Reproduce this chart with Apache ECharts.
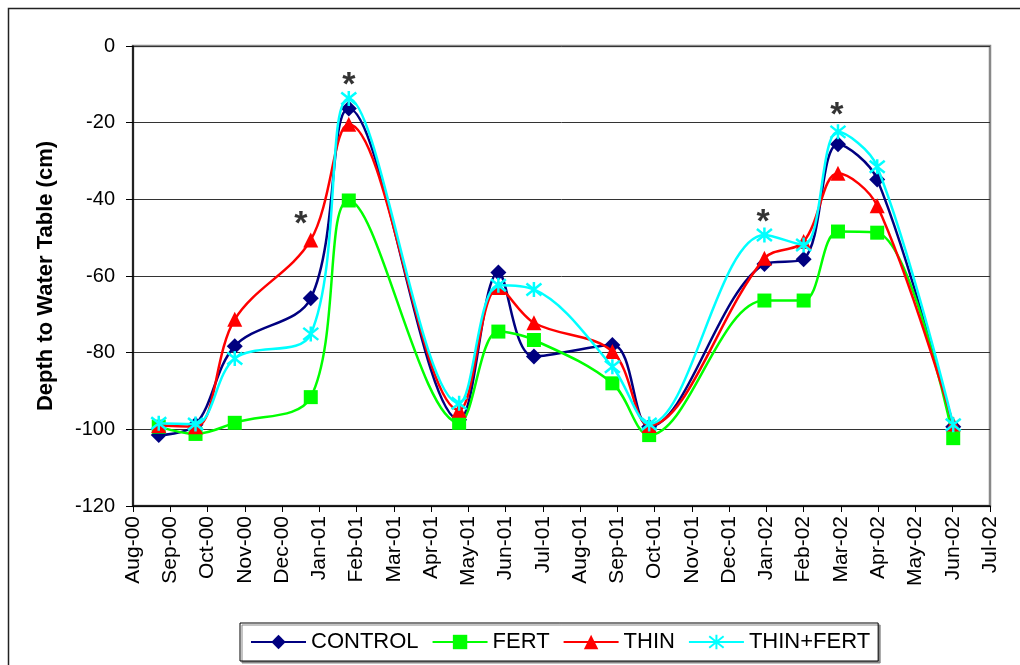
<!DOCTYPE html>
<html>
<head>
<meta charset="utf-8">
<script src="https://cdn.jsdelivr.net/npm/echarts@6/dist/echarts.min.js"></script>
<style>html,body{margin:0;padding:0;background:#fff;}#chart{width:1020px;height:665px;}</style>
</head>
<body>
<div id="chart"></div>
<script>
// ---- data ----
const sampleDates = ['2000-08-22','2000-09-21','2000-10-23','2000-12-24','2001-01-24','2001-04-24','2001-05-26','2001-06-24','2001-08-27','2001-09-26','2001-12-29','2002-01-30','2002-02-27','2002-03-31','2002-06-01'];
const control   = [-101.5, -98.8, -78.3, -65.8, -16.3, -97.5, -59.1, -81.0, -78.0, -99.3, -56.9, -55.6, -25.6, -34.8, -99.3];
const fert      = [-99.3, -101.2, -98.3, -91.6, -40.3, -98.3, -74.5, -76.7, -88.0, -101.5, -66.4, -66.4, -48.4, -48.7, -102.3];
const thin      = [-99.0, -99.3, -71.3, -50.6, -20.4, -95.0, -63.0, -72.2, -79.7, -99.0, -55.4, -51.0, -33.2, -41.7, -98.6];
const thinFert  = [-98.4, -98.6, -81.5, -75.1, -13.7, -93.2, -62.4, -63.5, -83.7, -98.6, -49.3, -51.9, -22.4, -31.5, -98.8];
const seriesNames = ['CONTROL', 'FERT', 'THIN', 'THIN+FERT'];
// significant differences (asterisk marks): [date, depth]
const asteriskDates  = ['2000-12-16', '2001-01-24', '2001-12-28', '2002-02-26'];
const asteriskDepths = [-44.3, -8.1, -43.6, -15.7];
// x-axis tick labels (one per axis division)
const monthLabels = ['Aug-00','Sep-00','Oct-00','Nov-00','Dec-00','Jan-01','Feb-01','Mar-01','Apr-01','May-01','Jun-01','Jul-01',
                     'Aug-01','Sep-01','Oct-01','Nov-01','Dec-01','Jan-02','Feb-02','Mar-02','Apr-02','May-02','Jun-02','Jul-02'];
const yTicks = [-120, -100, -80, -60, -40, -20, 0];

// ---- axis scale: x expressed in axis divisions (Aug-00 = 0 ... Jul-02 = 23) ----
const axisStart = Date.UTC(2000, 7, 1);
const axisEnd = Date.UTC(2002, 6, 1);
const nDiv = monthLabels.length - 1;
const divMs = (axisEnd - axisStart) / nDiv;
function toX(d) { return (Date.parse(d + 'T00:00:00Z') - axisStart) / divMs; }
function pairs(vals) { return sampleDates.map((d, i) => [toX(d), vals[i]]); }

const asteriskPath = 'path://M0,-10L0,10M-8,-8L8,8M-8,8L8,-8';
const styles = [
  { color: '#000080', symbol: 'diamond', size: 16 },
  { color: '#00FF00', symbol: 'rect', size: 14 },
  { color: '#FF0000', symbol: 'triangle', size: 15 },
  { color: '#00FFFF', symbol: asteriskPath, size: 15 }
];
const valueSets = [control, fert, thin, thinFert];

const series = valueSets.map((vals, i) => {
  const st = styles[i];
  const isStar = i === 3;
  return {
    name: seriesNames[i],
    type: 'line',
    data: pairs(vals),
    smooth: 0.35,
    symbol: st.symbol,
    symbolSize: st.size,
    showAllSymbol: true,
    lineStyle: { color: st.color, width: 2.5 },
    itemStyle: isStar ? { color: st.color, borderColor: st.color, borderWidth: 2.5 } : { color: st.color, borderWidth: 0 },
    emphasis: { disabled: true },
    z: 2 + i
  };
});
series.push({
  name: 'sig',
  type: 'scatter',
  data: asteriskDates.map((d, i) => [toX(d), asteriskDepths[i]]),
  symbolSize: 1,
  itemStyle: { color: 'rgba(0,0,0,0)' },
  label: { show: true, position: 'inside', formatter: '*', fontSize: 34, fontWeight: 'bold', color: '#000', fontFamily: 'Liberation Sans, Arial', offset: [0, 9] },
  emphasis: { disabled: true },
  silent: true,
  z: 10
});

const chart = echarts.init(document.getElementById('chart'), null, { renderer: 'canvas' });
chart.setOption({
  animation: false,
  backgroundColor: '#fff',
  textStyle: { fontFamily: 'Liberation Sans, Arial, sans-serif' },
  graphic: [{
    type: 'rect', left: 6, top: 6, shape: { width: 1100, height: 700 },
    style: { fill: 'none', stroke: '#222', lineWidth: 1.5 }, silent: true, z: -10
  }],
  grid: { left: 133, right: 30, top: 46, bottom: 159, show: true, borderColor: '#888', borderWidth: 2.5, backgroundColor: 'transparent' },
  xAxis: {
    type: 'value', min: 0, max: nDiv, interval: 1,
    axisLine: { show: true, onZero: false, lineStyle: { color: '#000', width: 1.5 } },
    axisTick: { show: true, inside: false, length: 6, lineStyle: { color: '#000' } },
    axisLabel: { rotate: 90, margin: 10, fontSize: 21, color: '#000', formatter: v => monthLabels[Math.round(v)] || '' },
    splitLine: { show: false }
  },
  yAxis: {
    type: 'value', min: yTicks[0], max: yTicks[yTicks.length - 1], interval: 20,
    name: 'Depth to Water Table (cm)', nameLocation: 'middle', nameGap: 76, nameRotate: 90,
    nameTextStyle: { fontSize: 22, fontWeight: 'bold', color: '#000' },
    axisLine: { show: true, onZero: false, lineStyle: { color: '#000', width: 1.5 } },
    axisTick: { show: true, inside: false, length: 7, lineStyle: { color: '#000' } },
    axisLabel: { margin: 18, fontSize: 20, color: '#000' },
    splitLine: { show: true, lineStyle: { color: '#333', width: 1 } }
  },
  legend: {
    data: seriesNames,
    left: 240, top: 623, width: 643,
    orient: 'horizontal',
    itemWidth: 55, itemHeight: 18, itemGap: 13,
    padding: [8, 8, 8, 10],
    borderColor: '#000', borderWidth: 1,
    backgroundColor: '#fff',
    shadowColor: '#888', shadowOffsetX: 2, shadowOffsetY: 2, shadowBlur: 0,
    textStyle: { fontSize: 22, color: '#000' }
  },
  series: series
});
</script>
</body>
</html>
